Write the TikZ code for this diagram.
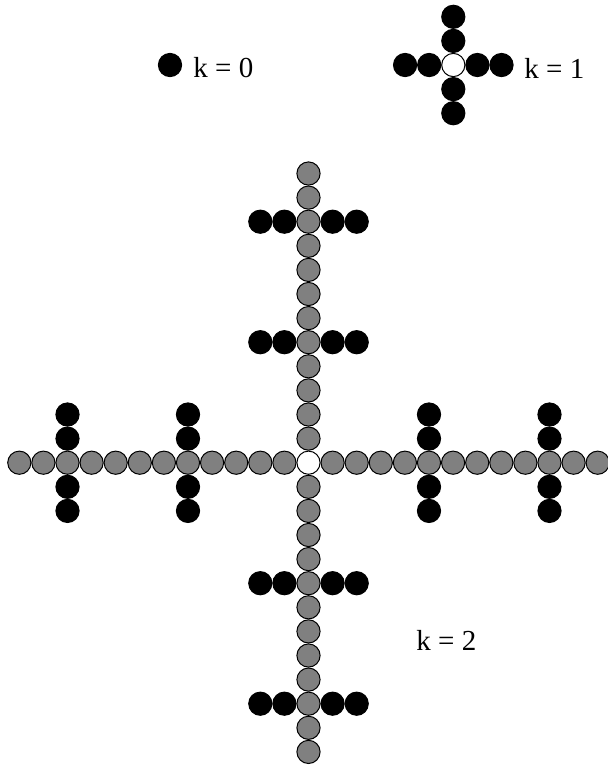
\documentclass[tikz,border=0pt]{standalone}
\usepackage{fontspec}
\setmainfont{Liberation Serif}
\begin{document}
\begin{tikzpicture}[x=0.5pt,y=-0.5pt,
  gball/.style={draw=black,line width=0.5pt,fill=gray},
  bball/.style={draw=black,line width=0.5pt,fill=black},
  wball/.style={draw=black,line width=0.5pt,fill=white},
  lbl/.style={inner sep=0pt,anchor=base west,font=\fontsize{14.5}{17}\selectfont}]
\useasboundingbox (0,0) rectangle (608,767);
\def\s{24.1}
\def\r{11.6}
% k = 0
\fill[bball] (170,65) circle (\r);
\node[lbl] (k0) at (193,77.5) {k = 0};
% k = 1
\def\ax{453.3}\def\ay{65}
\foreach \i in {-2,-1,1,2}{
  \draw[bball] (\ax+\i*\s,\ay) circle (\r);
  \draw[bball] (\ax,\ay+\i*\s) circle (\r);
}
\draw[wball] (\ax,\ay) circle (\r);
\node[lbl] (k1) at (524,78) {k = 1};
% k = 2
\def\cx{308.5}\def\cy{462.7}
\foreach \i in {-12,...,-1,1,2,...,12}{
  \draw[gball] (\cx+\i*\s,\cy) circle (\r);
  \draw[gball] (\cx,\cy+\i*\s) circle (\r);
}
\draw[wball] (\cx,\cy) circle (\r);
\foreach \b in {-10,-5,5,10}{
  \foreach \j in {-2,-1,1,2}{
    \draw[bball] (\cx+\b*\s,\cy+\j*\s) circle (\r);
    \draw[bball] (\cx+\j*\s,\cy+\b*\s) circle (\r);
  }
}
\node[lbl] (k2) at (416,650) {k = 2};
\end{tikzpicture}
\end{document}
